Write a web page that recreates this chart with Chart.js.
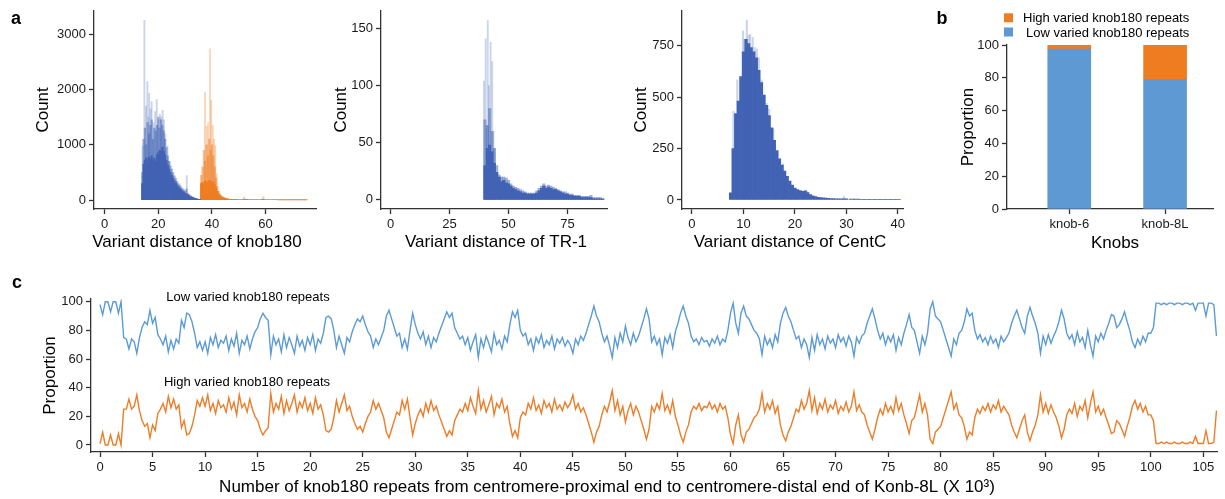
<!DOCTYPE html>
<html><head><meta charset="utf-8">
<script src="https://cdn.jsdelivr.net/npm/chart.js"></script>
<style>
html,body{margin:0;padding:0;background:#fff;width:1225px;height:499px;overflow:hidden}
canvas{position:absolute;left:0;top:0}
</style></head><body>
<canvas id="cA1" width="1225" height="499"></canvas>
<canvas id="cA2" width="1225" height="499"></canvas>
<canvas id="cA3" width="1225" height="499"></canvas>
<canvas id="cB" width="1225" height="499"></canvas>
<canvas id="cC" width="1225" height="499"></canvas>
<script>
// ---------------- DATA ----------------
// Panel a (knob180): histogram bins (start 14, width 0.5) – dense body, mid layer, tall light spikes
const knobLowBody = [300,650,720,760,700,780,740,800,720,760,700,820,860,900,880,960,880,820,720,640,560,500,450,400,350,310,270,240,210,190,165,145,125,110,95,80,65,52,42,32,24,18,12,8];
const knobLowMid = [500,1100,1300,1000,1400,1200,1350,1450,1100,1300,1250,1350,1500,1300,1450,1350,1250,1100,950,800,700,620,560,500,440,390,340,300,270,240,210,185,160,200,120,100,80,65,50,40,30,22,15,10];
const knobLowSpikeX = [14.1,14.8,15.4,15.9,16.3,16.6,17.1,17.5,18.2,18.8,19.4,20.0,20.6,21.1,21.6,22.1,22.6,23.4,24.2,30.6];
const knobLowSpikeY = [980,3250,1700,2140,1500,1930,1650,1780,1400,1600,1815,1450,1550,1500,1620,1450,1200,980,700,445];
// high varied knob180 (start 36, width 0.5), tail (start 47, width 1)
const knobHighBody = [300,320,280,350,330,300,360,340,310,330,280,220,160,110,80,60,45,35,28,22,18];
const knobHighMid = [450,600,900,700,1000,800,1100,900,1000,800,600,400,250,160,110,80,60,45,35,28,22];
const knobHighTail = [15,14,13,12,12,20,14,12,11,10,10,11,18,9,8,8,7,7,6,6,5,5,5,4,4,4,3,3,3];
const knobHighSpikeX = [37.4,38.0,38.6,39.3,39.7,40.3,40.8,41.2,41.8,52.0,59.2];
const knobHighSpikeY = [1950,1340,1400,2733,1800,1355,1100,980,480,60,70];

// Panel a (TR-1): bins start 40, width 1
const tr1Body = [30,45,48,42,32,24,20,16,17,15,14,12,10,9,8,7,6,6,5,5,5,5,6,8,10,12,10,11,10,9,9,8,7,6,5,5,4,4,3,3,3,2,2,2,2,2,1,1,1,1,1];
const tr1Mid = [70,65,80,60,45,30,22,20,20,19,17,14,12,11,10,9,8,7,6,6,6,6,8,10,12,14,12,13,12,11,10,9,8,7,7,6,5,5,4,4,4,3,3,3,3,4,2,2,2,2,1];
const tr1SpikeX = [39.6,40.3,40.8,41.2,41.7,42.4,43.1,43.6,44.2,46.5];
const tr1SpikeY = [104,141,65,157,100,138,121,60,45,20];

// Panel a (CentC): bins start 7.5, width 0.5; tail start 31, width 1
const centBody = [35,250,420,480,600,720,780,760,740,720,690,630,570,510,460,410,350,290,240,200,170,140,115,92,72,58,50,46,42,44,36,26,20,16,13,11,10,9,8,7,7,6,6,5,5,5];
const centTail = [4,4,3,3,3,3,2,2,2,2];
const centSpikeX = [8.06,8.8,9.35,9.9,10.2,10.65,11.0,11.3,11.8,12.2,12.6,13.0,13.55,14.0,14.5,15.0,15.8,16.45,17.7,19.0,20.3,22.3,29.5];
const centSpikeY = [430,583,478,821,780,874,800,805,790,740,733,690,582,494,470,440,344,224,176,88,48,45,18];

// Panel b
const knobNames = ['knob-6','knob-8L'];
const knobPos = [0,1];
const lowShare = [97.5,79.1];
const highShare = [2.5,20.9];

// Panel c: proportion every 0.25 x10^3 repeats, from 0
const C_STEP = 0.25;
const lowVaried = [
98,91,100,100,93,100,100,92,100,75,74,67,74,72,64,75,82,86,84,94,
85,89,77,74,70,76,65,73,67,74,71,87,82,92,91,86,78,68,72,66,
72,64,75,70,77,68,73,71,76,66,74,69,78,64,73,70,76,67,74,79,
82,88,92,89,87,63,76,70,74,65,77,68,75,70,64,76,69,73,66,75,
70,77,66,74,71,78,89,90,88,80,68,76,70,64,75,72,79,84,88,86,
90,84,79,76,68,74,70,75,80,90,94,88,82,76,78,68,74,67,80,92,
84,78,74,79,70,76,68,75,72,78,83,88,93,89,92,82,78,74,76,70,
75,66,72,77,61,74,68,76,71,65,78,70,73,67,76,72,84,93,89,94,
80,76,78,70,74,66,75,71,77,68,73,70,76,67,74,71,75,69,73,70,
64,74,70,76,73,78,84,90,97,90,86,78,72,76,69,61,75,68,78,72,
83,75,70,78,72,76,82,88,95,88,72,76,70,74,63,75,71,77,68,79,
85,92,97,90,85,76,72,74,70,75,72,73,69,74,71,76,70,74,72,80,
92,99,85,78,92,97,90,88,84,80,78,74,63,76,70,74,68,77,72,85,
92,96,90,86,80,74,76,68,74,70,61,75,66,77,70,74,67,76,71,74,
68,77,72,75,69,76,72,62,75,71,76,78,85,90,95,88,80,74,78,70,
76,72,77,66,75,70,78,84,91,82,80,72,64,76,70,78,95,100,90,88,
86,80,74,68,62,74,70,78,80,86,95,90,92,80,74,77,72,75,70,76,
71,74,68,76,72,75,78,85,90,94,88,82,78,90,96,90,85,78,64,76,
70,77,71,76,80,86,94,88,78,74,77,70,79,72,75,68,80,70,62,76,
72,78,74,80,85,91,90,82,84,88,93,86,80,72,68,74,70,76,72,78,
78,82,99,99,98,99,98,99,99,98,99,99,98,99,99,98,99,94,99,99,
99,90,99,99,98,76];
const highVaried = [
1,9,0,0,7,0,0,8,0,25,25,32,25,27,35,24,17,13,15,5,
14,10,22,25,29,23,34,26,32,25,28,12,17,7,8,13,21,31,27,33,
27,35,24,29,22,31,26,28,23,33,25,30,21,35,26,29,23,32,25,20,
17,11,7,10,12,36,23,29,25,34,22,31,24,29,35,23,30,26,33,24,
29,22,33,25,28,21,10,9,11,19,31,23,29,35,24,27,20,15,11,13,
9,15,20,23,31,25,29,24,19,9,5,11,17,23,21,31,25,32,19,7,
15,21,25,20,29,23,31,24,27,21,16,11,6,10,7,17,21,25,23,29,
24,33,27,22,38,25,31,23,28,34,21,29,26,32,23,27,15,6,10,5,
19,23,21,29,25,33,24,28,22,31,26,29,23,32,25,28,24,30,26,29,
35,25,29,23,26,21,15,9,2,9,13,21,27,23,30,38,24,31,21,27,
16,24,29,21,27,23,17,11,4,11,27,23,29,25,36,24,28,22,31,20,
14,7,2,9,14,23,27,25,29,24,27,26,30,25,28,23,29,25,27,19,
7,1,14,21,7,2,9,11,15,19,21,25,36,23,29,25,31,22,27,14,
7,3,9,13,19,25,23,31,25,29,38,24,33,22,29,25,32,23,28,25,
31,22,27,24,30,23,27,37,24,28,23,21,14,9,4,11,19,25,21,29,
23,27,22,33,24,29,21,15,8,17,19,27,35,23,29,21,4,1,9,11,
13,19,25,31,37,25,29,21,19,13,4,9,7,19,25,22,27,24,29,23,
28,25,31,23,27,24,21,14,9,5,11,17,21,9,3,9,14,21,35,23,
29,22,28,23,19,13,5,11,21,25,22,29,20,27,24,31,19,29,37,23,
27,21,25,19,14,8,9,17,15,11,6,13,19,27,31,25,29,23,27,21,
21,17,1,1,2,1,2,1,1,2,1,1,2,1,1,2,1,6,1,1,
1,10,1,1,2,24];

// Tick values
const a1XTicks = [0,20,40,60], a1YTicks = [0,1000,2000,3000];
const a2XTicks = [0,25,50,75], a2YTicks = [0,50,100,150];
const a3XTicks = [0,10,20,30,40], a3YTicks = [0,250,500,750];
const bYTicks = [0,20,40,60,80,100];
const cXTicks = [0,5,10,15,20,25,30,35,40,45,50,55,60,65,70,75,80,85,90,95,100,105];
const cYTicks = [0,20,40,60,80,100];

// ---------------- HELPERS ----------------
const W = 1225, H = 499;
const FONT = "'Liberation Sans', Arial, Helvetica, sans-serif";
const AXIS_COLOR = '#333333', TICK_COLOR = '#1a1a1a';
const BLUE_D = 'rgb(66,99,180)', BLUE_M = 'rgba(66,99,180,0.5)', BLUE_L = 'rgba(66,99,180,0.28)';
const ORG_D = 'rgb(238,125,35)', ORG_M = 'rgba(238,125,35,0.5)', ORG_L = 'rgba(238,125,35,0.32)';

function series(start, step, values) { return values.map((v, i) => ({x: +(start + i * step).toFixed(4), y: v})); }
function pairs(xs, ys) { return xs.map((x, i) => ({x: x, y: ys[i]})); }
function barDs(points, color, thick, order) {
  return {type: 'bar', data: points, backgroundColor: color, borderWidth: 0, barThickness: thick, grouped: false, order: order};
}
function axis(o) {
  const s = {
    type: 'linear', bounds: 'data', min: o.min, max: o.max, offset: false, stacked: !!o.stacked,
    border: {display: true, color: AXIS_COLOR, width: 1.3},
    grid: {display: true, offset: false, drawOnChartArea: false, drawTicks: true, tickLength: 5, tickWidth: 1.3, tickColor: AXIS_COLOR},
    ticks: {font: {family: FONT, size: 13}, color: TICK_COLOR, padding: 3, autoSkip: false, maxRotation: 0, minRotation: 0,
      callback: (v, i) => o.labels ? o.labels[i] : String(v)},
    afterBuildTicks: sc => { sc.ticks = o.ticks.map(v => ({value: v})); },
    afterFit: sc => { if (o.horizontal) sc.height = H - o.area.bottom; else sc.width = o.area.left; }
  };
  if (o.title) s.title = {display: true, text: o.title, color: '#000', font: {family: FONT, size: 17}, padding: {top: o.titlePad, bottom: 0}};
  return s;
}
const textPlugin = {
  id: 'texts',
  afterDraw(chart, args, opts) {
    const ctx = chart.ctx;
    (opts.boxes || []).forEach(b => { ctx.save(); ctx.fillStyle = b.color; ctx.fillRect(b.x, b.y, b.w, b.h); ctx.restore(); });
    (opts.items || []).forEach(it => {
      ctx.save();
      ctx.font = (it.bold ? 'bold ' : '') + (it.size || 17) + 'px ' + FONT;
      ctx.fillStyle = '#000';
      ctx.textAlign = it.align || 'center';
      ctx.textBaseline = 'alphabetic';
      ctx.fillText(it.text, it.x, it.y);
      ctx.restore();
    });
  }
};
function options(area, scales, texts) {
  return {
    responsive: false, animation: false, events: [], devicePixelRatio: 1,
    layout: {autoPadding: false, padding: {left: 0, top: area.top, right: W - area.right, bottom: 0}},
    plugins: {legend: {display: false}, tooltip: {enabled: false}, texts: texts},
    scales: scales
  };
}

// ---------------- PANEL a1 ----------------
const A1 = {left: 94, top: 8, right: 316, bottom: 209};
new Chart(document.getElementById('cA1'), {
  type: 'bar',
  data: {datasets: [
    barDs(series(14, 0.5, knobLowBody), BLUE_D, 1.6, 0),
    barDs(series(14, 0.5, knobLowMid), BLUE_M, 1.6, 1),
    barDs(pairs(knobLowSpikeX, knobLowSpikeY), BLUE_L, 1.2, 2),
    barDs(series(36, 0.5, knobHighBody), ORG_D, 1.6, 0),
    barDs(series(47, 1, knobHighTail), ORG_D, 2.7, 0),
    barDs(series(36, 0.5, knobHighMid), ORG_M, 1.6, 1),
    barDs(pairs(knobHighSpikeX, knobHighSpikeY), ORG_L, 1.2, 2)
  ]},
  options: options(A1, {
    x: axis({min: -4, max: 78.8, ticks: a1XTicks, horizontal: true, area: A1}),
    y: axis({min: -160, max: 3420, ticks: a1YTicks, area: A1, title: 'Count', titlePad: 32.8})
  }, {items: [
    {text: 'a', x: 16, y: 24, bold: true, size: 18},
    {text: 'Variant distance of knob180', x: 197, y: 247}
  ]}),
  plugins: [textPlugin]
});

// ---------------- PANEL a2 ----------------
const A2 = {left: 381, top: 8, right: 607, bottom: 209};
new Chart(document.getElementById('cA2'), {
  type: 'bar',
  data: {datasets: [
    barDs(series(40, 1, tr1Body), BLUE_D, 2.4, 0),
    barDs(series(40, 1, tr1Mid), BLUE_M, 2.4, 1),
    barDs(pairs(tr1SpikeX, tr1SpikeY), BLUE_L, 1.2, 2)
  ]},
  options: options(A2, {
    x: axis({min: -4.1, max: 91.8, ticks: a2XTicks, horizontal: true, area: A2}),
    y: axis({min: -8, max: 165.5, ticks: a2YTicks, area: A2, title: 'Count', titlePad: 331.5})
  }, {items: [
    {text: 'Variant distance of TR-1', x: 496, y: 247}
  ]}),
  plugins: [textPlugin]
});

// ---------------- PANEL a3 ----------------
const A3 = {left: 682, top: 8, right: 903, bottom: 209};
new Chart(document.getElementById('cA3'), {
  type: 'bar',
  data: {datasets: [
    barDs(series(7.5, 0.5, centBody), BLUE_D, 2.6, 0),
    barDs(series(31, 1, centTail), BLUE_D, 5.2, 0),
    barDs(pairs(centSpikeX, centSpikeY), BLUE_L, 1.4, 2)
  ]},
  options: options(A3, {
    x: axis({min: -1.94, max: 41, ticks: a3XTicks, horizontal: true, area: A3}),
    y: axis({min: -44, max: 919, ticks: a3YTicks, area: A3, title: 'Count', titlePad: 630.8})
  }, {items: [
    {text: 'Variant distance of CentC', x: 790, y: 247}
  ]}),
  plugins: [textPlugin]
});

// ---------------- PANEL b ----------------
const BA = {left: 1007, top: 45, right: 1213, bottom: 209};
new Chart(document.getElementById('cB'), {
  type: 'bar',
  data: {datasets: [
    {label: 'Low varied knob180 repeats', data: pairs(knobPos, lowShare), backgroundColor: '#5f99d3', borderWidth: 0, barThickness: 43},
    {label: 'High varied knob180 repeats', data: pairs(knobPos, highShare), backgroundColor: '#ee7d22', borderWidth: 0, barThickness: 43}
  ]},
  options: options(BA, {
    x: axis({min: -0.65, max: 1.5, ticks: knobPos, labels: knobNames, horizontal: true, area: BA, stacked: true}),
    y: axis({min: 0, max: 100, ticks: bYTicks, area: BA, stacked: true, title: 'Proportion', titlePad: 957.8})
  }, {
    boxes: [{x: 1004, y: 13.3, w: 9, h: 9, color: '#ee7d22'}, {x: 1004, y: 27.5, w: 9, h: 9, color: '#5f99d3'}],
    items: [
      {text: 'b', x: 942, y: 24, bold: true, size: 18},
      {text: 'High varied knob180 repeats', x: 1023, y: 22, size: 13, align: 'left'},
      {text: 'Low varied knob180 repeats', x: 1026, y: 36.5, size: 13, align: 'left'},
      {text: 'Knobs', x: 1115, y: 248}
    ]
  }),
  plugins: [textPlugin]
});

// ---------------- PANEL c ----------------
const CA = {left: 91, top: 299, right: 1217, bottom: 452};
new Chart(document.getElementById('cC'), {
  type: 'line',
  data: {datasets: [
    {label: 'Low varied knob180 repeats', data: series(0, C_STEP, lowVaried), borderColor: 'rgb(91,155,213)', borderWidth: 1.4, pointRadius: 0, tension: 0, fill: false},
    {label: 'High varied knob180 repeats', data: series(0, C_STEP, highVaried), borderColor: 'rgb(237,125,40)', borderWidth: 1.4, pointRadius: 0, tension: 0, fill: false}
  ]},
  options: options(CA, {
    x: axis({min: -0.86, max: 106.3, ticks: cXTicks, horizontal: true, area: CA}),
    y: axis({min: -4.9, max: 101.9, ticks: cYTicks, area: CA, title: 'Proportion', titlePad: 39.8})
  }, {items: [
    {text: 'c', x: 17, y: 288, bold: true, size: 18},
    {text: 'Low varied knob180 repeats', x: 248, y: 300.5, size: 13},
    {text: 'High varied knob180 repeats', x: 247, y: 385.5, size: 13},
    {text: 'Number of knob180 repeats from centromere-proximal end to centromere-distal end of Konb-8L (X 10\u00B3)', x: 607, y: 491.5}
  ]}),
  plugins: [textPlugin]
});
</script>
</body></html>
